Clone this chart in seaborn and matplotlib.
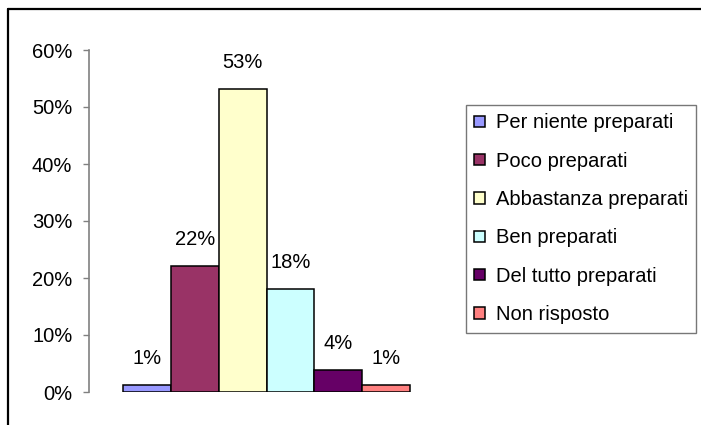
import seaborn as sns
import matplotlib.pyplot as plt
from matplotlib.lines import Line2D
from matplotlib.ticker import PercentFormatter

# data
categories = ['Per niente preparati', 'Poco preparati', 'Abbastanza preparati',
              'Ben preparati', 'Del tutto preparati', 'Non risposto']
values = [0.013, 0.221, 0.532, 0.181, 0.039, 0.013]
colors = ['#9999FF', '#993366', '#FFFFCC', '#CCFFFF', '#660066', '#FF8080']
y_ticks = [0, 0.1, 0.2, 0.3, 0.4, 0.5, 0.6]

sns.set_style('white')
plt.rcParams['font.family'] = ['Liberation Sans', 'DejaVu Sans']
plt.rcParams['text.color'] = 'black'
plt.rcParams['ytick.labelcolor'] = 'black'

fig = plt.figure(figsize=(7.01, 4.25), dpi=100)
ax = fig.add_axes([89 / 701, 33 / 425, 356 / 701, 342 / 425])

sns.barplot(x=categories, y=values, hue=categories, palette=colors, saturation=1,
            width=1, edgecolor='black', linewidth=1.1, legend=False, ax=ax)

# value labels above the bars
for bar, v in zip(ax.patches, values):
    ax.annotate(f'{v:.0%}', (bar.get_x() + bar.get_width() / 2, bar.get_height()),
                xytext=(0, 19), textcoords='offset points',
                ha='center', va='center', fontsize=14.5, color='black')

ax.set_xlim(-1.21, 6.23)
ax.set_ylim(0, 0.6)
ax.set_yticks(y_ticks)
ax.yaxis.set_major_formatter(PercentFormatter(1.0, decimals=0))
ax.tick_params(axis='y', direction='out', length=4, width=1, color='#808080',
               pad=8, labelsize=14.5, labelcolor='black', left=True)
ax.set_xticks([])
for side in ['top', 'right', 'bottom']:
    ax.spines[side].set_visible(False)
ax.spines['left'].set_color('#808080')
ax.spines['left'].set_linewidth(1.2)

# legend with the colour squares
leg = ax.legend(ax.patches, categories, loc='upper left',
                bbox_to_anchor=(466 / 701, 1 - 105 / 425), bbox_transform=fig.transFigure,
                fontsize=14.5, frameon=True, fancybox=False, handlelength=0.5,
                handleheight=0.5, handletextpad=0.55, labelspacing=0.96,
                borderpad=0.42, borderaxespad=0)
leg.get_frame().set_edgecolor('#555555')
leg.get_frame().set_linewidth(1)
for t in leg.get_texts():
    t.set_color('black')

# chart area border
fig.add_artist(Line2D([8 / 701, 1], [1 - 9 / 425, 1 - 9 / 425], color='black', lw=1.6))
fig.add_artist(Line2D([8 / 701, 8 / 701], [0, 1 - 9 / 425], color='black', lw=1.6))

fig.savefig('out.png', dpi=100)
